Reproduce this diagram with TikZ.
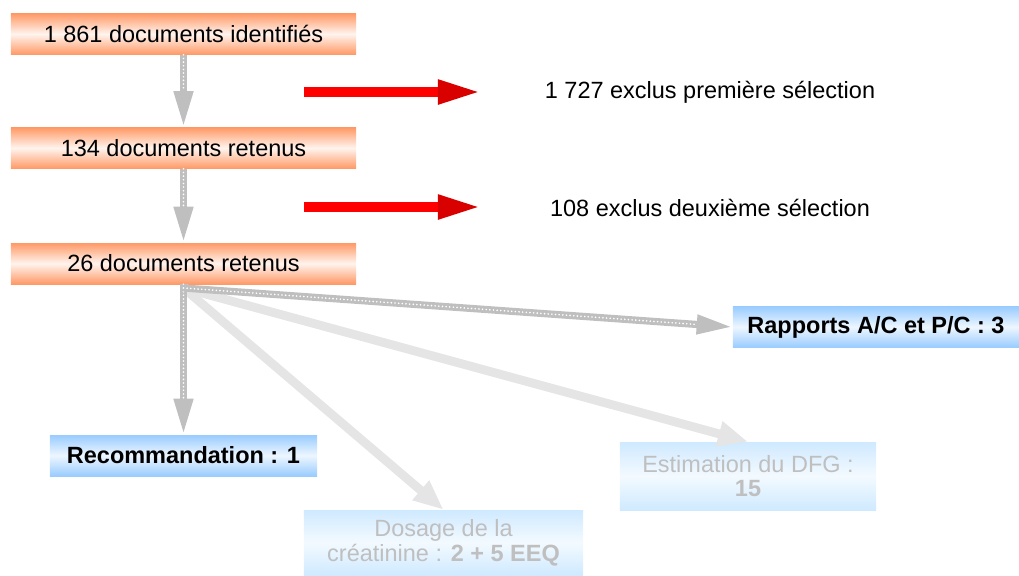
\documentclass[tikz,border=0pt]{standalone}
\usepackage{fontspec}
\setmainfont{Liberation Sans}
\usetikzlibrary{arrows.meta}
\definecolor{peach}{HTML}{FF9966}
\definecolor{peachlight}{HTML}{FFF4EE}
\definecolor{skyblue}{HTML}{99CCFF}
\definecolor{skylight}{HTML}{EDF6FF}
\definecolor{paleblue}{HTML}{CFE9FF}
\definecolor{palelight}{HTML}{F3FAFF}
\begin{document}
\begin{tikzpicture}[x=0.025cm,y=-0.025cm]
		\tikzset{stage/.style = {shape=rectangle,minimum width=8.625cm,minimum height=1.025cm,top color=peach,bottom color=peach,middle color=peachlight,font=\fontsize{16.7}{16.7}\selectfont}}
		\tikzset{result/.style = {shape=rectangle,minimum height=1.025cm,top color=skyblue,bottom color=skyblue,middle color=skylight,font=\fontsize{16.7}{16.7}\selectfont\bfseries}}
		\tikzset{faded/.style = {shape=rectangle,align=center,top color=paleblue,bottom color=paleblue,middle color=palelight,text=gray!50,font=\fontsize{16.7}{17.5}\selectfont}}
		\tikzset{note/.style = {font=\fontsize{16.7}{16.7}\selectfont}}
		\tikzset{redarrow/.style = {draw=red,line width=0.25cm,-{Triangle[length=1.1cm,width=0.55cm,color=red!85!black]}}}
		\tikzset{dotarrow/.style = {draw=gray!50,line width=0.18cm,-{Triangle[length=0.9cm,width=0.45cm]},
				postaction={draw=white,line width=1.3pt,dash pattern=on 0pt off 2.6pt,line cap=round,shorten >=0.9cm,-}}}
		\tikzset{fadearrow/.style = {draw=gray!20,line width=0.22cm,-{Triangle[length=0.75cm,width=0.6cm]}}}
		\useasboundingbox (0,0) rectangle (1019,575);
		\node[stage] (ident) at (183.5,34) {1 861 documents identifiés};
		\node[stage] (kept1) at (183.5,148) {134 documents retenus};
		\node[stage] (kept2) at (183.5,263.5) {26 documents retenus};
		\node[note] (excl1) at (710,92) {1 727 exclus première sélection};
		\node[note] (excl2) at (710,208) {108 exclus deuxième sélection};
		\node[result,minimum width=6.675cm] (reco) at (183.5,455.5) {Recommandation : 1};
		\node[result,minimum width=7.15cm] (ratio) at (876,327) {Rapports A/C et P/C : 3};
		\node[faded,minimum width=6.4cm,minimum height=1.7cm] (dfg) at (748,476) {Estimation du DFG :\\\textbf{15}};
		\node[faded,minimum width=6.975cm,minimum height=1.625cm] (creat) at (443.5,542.5) {Dosage de la\\créatinine : \textbf{2 + 5 EEQ}};
		\coordinate (fork) at (183.5,288);
		\coordinate (r1a) at (304,92);
		\coordinate (r1b) at (482,92);
		\coordinate (r2a) at (304,207);
		\coordinate (r2b) at (482,207);
		% grey flow
		\draw[fadearrow] (fork) -- (creat.north);
		\draw[fadearrow] (fork) -- (dfg.north);
		\draw[dotarrow] (ident.south) -- (kept1.north);
		\draw[dotarrow] (kept1.south) -- (kept2.north);
		\draw[dotarrow] (kept2.south) -- (reco.north);
		\draw[dotarrow] (fork) -- (ratio.west);
		% exclusions
		\draw[redarrow] (r1a) -- (r1b);
		\draw[redarrow] (r2a) -- (r2b);
	\end{tikzpicture}
\end{document}
